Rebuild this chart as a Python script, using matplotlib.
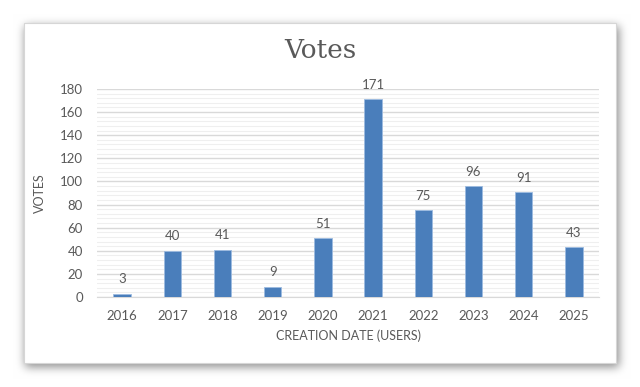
import matplotlib
matplotlib.use("Agg")
import matplotlib.pyplot as plt
from matplotlib.patches import Rectangle
import numpy as np

years = ["2016", "2017", "2018", "2019", "2020", "2021", "2022", "2023", "2024", "2025"]
votes = [3, 40, 41, 9, 51, 171, 75, 96, 91, 43]

W, H = 640, 387
fig = plt.figure(figsize=(6.4, 3.87), dpi=100)
fig.patch.set_facecolor("white")

# soft shadow behind the chart frame (blurred mask)
fx0, fy0, fx1, fy1 = 24, 23, 616, 363
mask = np.zeros((H, W))
mask[fy0 + 3:fy1 + 4, fx0 + 1:fx1 + 3] = 1.0
def blur1d(a, r, axis):
    k = np.ones(2 * r + 1) / (2 * r + 1)
    return np.apply_along_axis(lambda m: np.convolve(m, k, mode="same"), axis, a)
for _ in range(3):
    mask = blur1d(mask, 4, 0)
    mask = blur1d(mask, 4, 1)
shade = 1 - 0.45 * mask
img = np.dstack([shade, shade, shade])
fig.figimage(img[::-1], xo=0, yo=0, origin="lower", zorder=0)

frame = Rectangle((fx0 / W, 1 - fy1 / H), (fx1 - fx0) / W, (fy1 - fy0) / H,
                  transform=fig.transFigure, facecolor="white",
                  edgecolor="#d6d6d6", linewidth=0.8, zorder=1)
fig.patches.append(frame)

ax = fig.add_axes([97 / W, 1 - 297 / H, (599 - 97) / W, (297 - 89) / H])
ax.set_facecolor("none")
ax.set_zorder(2)

font = "Lato"
tc = "#595959"
x = np.arange(len(years))
bars = ax.bar(x, votes, width=0.35, color="#4a7ebb", edgecolor="#9dbbe0",
              linewidth=0.6, zorder=3)
for xi, v in zip(x, votes):
    ax.annotate(str(v), (xi, v), xytext=(0, 6), textcoords="offset points",
                ha="center", va="bottom", fontsize=9.5, color=tc, family=font)

ax.set_xlim(-0.5, len(years) - 0.5)
ax.set_ylim(0, 180)
ax.set_yticks(np.arange(0, 181, 20))
ax.set_yticks(np.arange(0, 181, 4), minor=True)
ax.grid(axis="y", which="major", color="#d9d9d9", linewidth=1.0, zorder=0)
ax.grid(axis="y", which="minor", color="#efefef", linewidth=0.8, zorder=0)
ax.set_xticks(x)
ax.set_xticklabels(years)
for s in ["top", "right", "left"]:
    ax.spines[s].set_visible(False)
ax.spines["bottom"].set_color("#d9d9d9")
ax.tick_params(axis="both", which="both", length=0, colors=tc, labelsize=9.5)
ax.tick_params(axis="x", pad=9)
ax.tick_params(axis="y", pad=10)
for lab in ax.get_xticklabels() + ax.get_yticklabels():
    lab.set_family(font)

ax.set_ylabel("VOTES", fontsize=9, color=tc, family=font, labelpad=10)
ax.set_xlabel("CREATION DATE (USERS)", fontsize=9, color=tc, family=font, labelpad=6)
fig.text(320 / W, 1 - 50 / H, "Votes", ha="center", va="center",
         fontsize=19, color=tc, family="DejaVu Serif", zorder=5)

fig.savefig("out.png", dpi=100)
